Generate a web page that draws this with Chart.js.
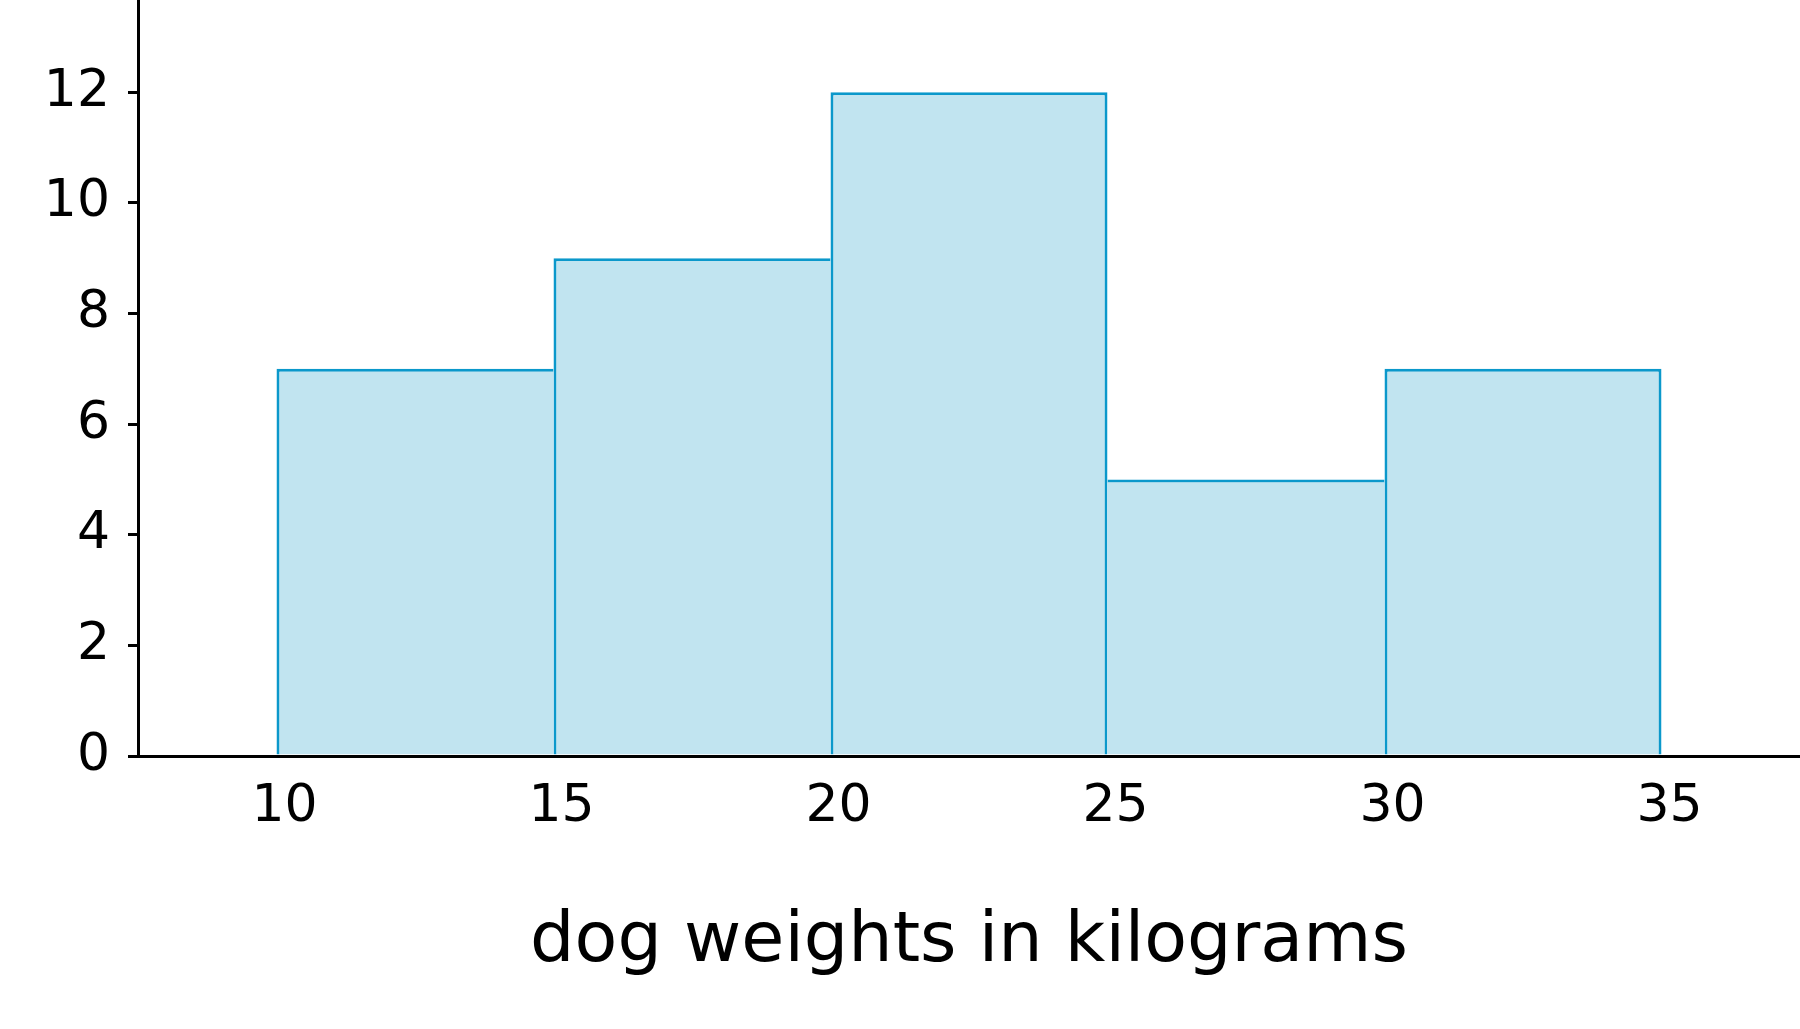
<!DOCTYPE html>
<html>
<head>
<meta charset="utf-8">
<script src="https://cdn.jsdelivr.net/npm/chart.js@4/dist/chart.umd.min.js"></script>
<style>
  html, body { margin: 0; padding: 0; background: #fff; }
  #wrap { width: 1800px; height: 1029px; position: relative; }
</style>
</head>
<body>
<div id="wrap"><canvas id="hist"></canvas></div>
<script>
// bins (lower edges), width and counts
const binStarts = [10, 15, 20, 25, 30];
const binWidth = 5;
const counts = [7, 9, 12, 5, 7];
const xTicks = [10, 15, 20, 25, 30, 35];
const yTicks = [0, 2, 4, 6, 8, 10, 12];
const axisTitle = 'dog weights in kilograms';

const points = binStarts.map((b, i) => ({ x: b + binWidth / 2, y: counts[i] }));
const last = points.length - 1;

// shared edges drawn once, by the taller bar
function edgeWidths(ctx) {
  const i = ctx.dataIndex;
  const left = i === 0 || counts[i - 1] <= counts[i] ? 3 : 0;
  const right = i === last || counts[i + 1] < counts[i] ? 3 : 0;
  return { top: 3, left, right, bottom: 0 };
}

new Chart(document.getElementById('hist'), {
  type: 'bar',
  data: {
    datasets: [
      {
        data: points,
        backgroundColor: '#c1e4f0',
        borderColor: '#0b98cb',
        borderWidth: edgeWidths,
        borderSkipped: false,
        barPercentage: 1,
        categoryPercentage: 1,
        inflateAmount: 0,
      },
    ],
  },
  options: {
    responsive: true,
    maintainAspectRatio: false,
    animation: false,
    layout: { padding: 0 },
    plugins: {
      legend: { display: false },
      tooltip: { enabled: false },
    },
    scales: {
      x: {
        type: 'linear',
        min: 7.5,
        max: 37.5,
        offset: false,
        z: 1,
        grid: { display: false, offset: false },
        border: { display: true, color: '#000', width: 3 },
        ticks: {
          color: '#000',
          padding: 12,
          labelOffset: 8,
          font: { family: 'DejaVu Sans', size: 52 },
        },
        afterBuildTicks: (s) => {
          s.ticks = xTicks.map((v) => ({ value: v }));
        },
        afterFit: (s) => {
          s.height = 273;
          s.paddingLeft = 0;
          s.paddingRight = 0;
        },
        title: {
          display: true,
          text: axisTitle,
          color: '#000',
          font: { family: 'DejaVu Sans', size: 70 },
          padding: { top: 0, bottom: 44 },
        },
      },
      y: {
        min: 0,
        max: 13.67,
        z: 1,
        grid: {
          display: true,
          drawOnChartArea: false,
          drawTicks: true,
          tickLength: 10,
          color: '#000',
          lineWidth: 3,
        },
        border: { display: true, color: '#000', width: 3 },
        ticks: {
          color: '#000',
          padding: 18,
          font: { family: 'DejaVu Sans', size: 52 },
        },
        afterBuildTicks: (s) => {
          s.ticks = yTicks.map((v) => ({ value: v }));
        },
        afterFit: (s) => {
          s.width = 138;
          s.paddingTop = 0;
          s.paddingBottom = 0;
        },
      },
    },
  },
});
</script>
</body>
</html>
